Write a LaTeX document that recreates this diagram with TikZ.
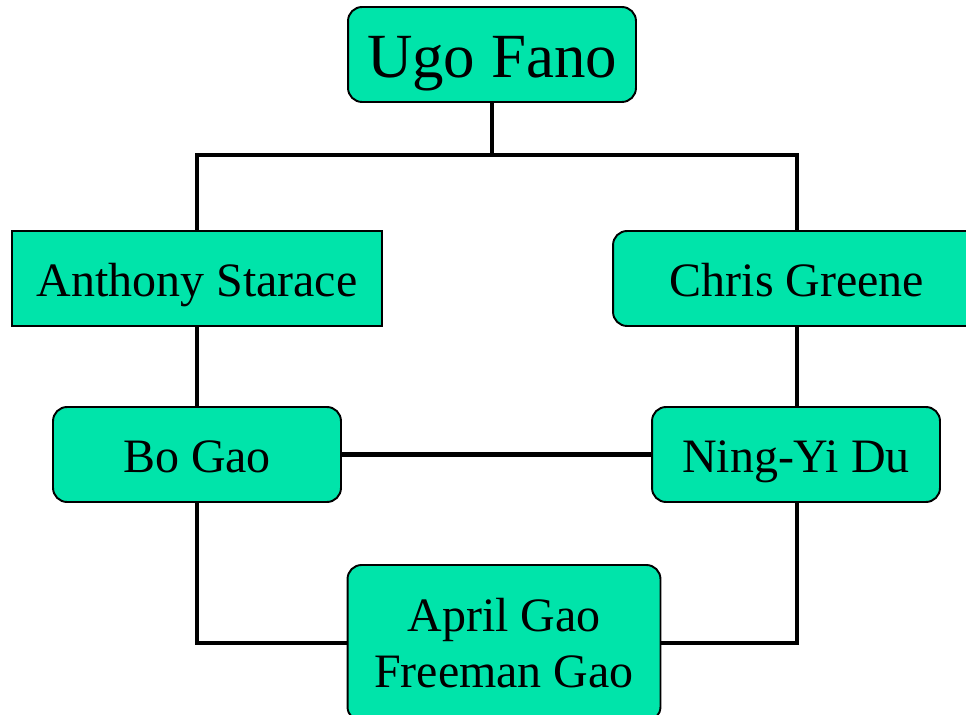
\documentclass[tikz,border=0pt]{standalone}
\usepackage{fontspec}
\setmainfont{Liberation Serif}
\usetikzlibrary{positioning}
\definecolor{famgreen}{RGB}{0,228,170}
\tikzset{
  person/.style={draw=black,line width=1.1pt,fill=famgreen,rounded corners=8pt,align=center,inner sep=0pt,font=\fontsize{27.3}{32}\selectfont},
  oneline/.style={text depth=0pt,text height=21pt},
  link/.style={line width=2.3pt}
}
\begin{document}
\begin{tikzpicture}[x=0.02cm,y=-0.02cm]
\useasboundingbox (0,0) rectangle (966,715);
\node[person,oneline,text height=26.7pt,minimum width=5.76cm,minimum height=1.9cm,font=\fontsize{35.8}{42}\selectfont] (ugo) at (492,54.5) {Ugo Fano};
\node[person,oneline,sharp corners,minimum width=7.4cm,minimum height=1.9cm] (starace) at (197,278.5) {Anthony Starace};
\node[person,oneline,minimum width=7.36cm,minimum height=1.9cm] (greene) at (797,278.5) {Chris Greene};
\node[person,oneline,minimum width=5.76cm,minimum height=1.9cm] (bogao) at (197,454.5) {Bo Gao};
\node[person,oneline,minimum width=5.76cm,minimum height=1.9cm] (ningyi) at (796,454.5) {Ning-Yi Du};
\node[person,minimum width=6.26cm,minimum height=3.12cm] (kids) at (504,643) {April Gao\\Freeman Gao};
\coordinate (busl) at (197,155);
\coordinate (busr) at (797,155);
% family lines
\draw[link] (ugo.south) -- (ugo.south |- busl);
\draw[link] (starace.north) -- (busl) -- (busr) -- (greene.north);
\draw[link] (starace.south) -- (bogao.north);
\draw[link] (greene.south) -- (greene.south |- ningyi.north);
\draw[link] (bogao.east) -- (ningyi.west);
\draw[link] (bogao.south) |- (kids.west);
\draw[link] (ningyi.south -| greene.south) |- (kids.east);
\end{tikzpicture}
\end{document}
